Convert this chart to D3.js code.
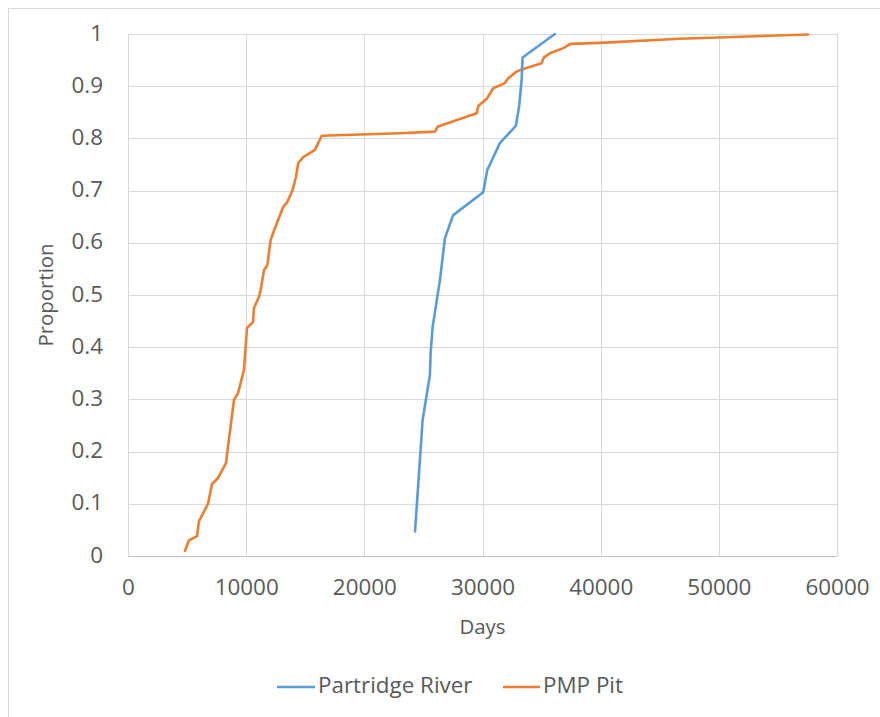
<!DOCTYPE html>
<html>
<head>
<meta charset="utf-8">
<script src="https://cdn.jsdelivr.net/npm/d3@7/dist/d3.min.js"></script>
<style>
  html, body { margin: 0; padding: 0; background: #fff; }
  svg { display: block; }
  text { font-family: "Open Sans", "Noto Sans", sans-serif; fill: #595959; }
</style>
</head>
<body>
<svg id="chart" width="880" height="717"></svg>
<script>
// ---- Data ----
const seriesNames = ["Partridge River", "PMP Pit"];
const seriesColors = ["#5B9BD5", "#ED7D31"];

const partridgeDays = [24290, 24930, 25550, 25610, 25780, 26400, 26820, 27520, 30060, 30400, 31470, 32820, 33100, 33310, 33390, 36120];
const partridgeProp = [0.047, 0.260, 0.347, 0.389, 0.439, 0.529, 0.609, 0.653, 0.697, 0.739, 0.791, 0.824, 0.861, 0.912, 0.955, 1.000];

const pmpDays = [4820, 5160, 5840, 6010, 6770, 7110, 7610, 8290, 8460, 8970, 9310, 9810, 10070, 10580, 10660, 11080, 11230, 11510, 11790, 12070, 12380, 13140, 13480, 13930, 14210, 14410, 14830, 15820, 16390, 23010, 25970, 26230, 29500, 29640, 30400, 30900, 31890, 32170, 32880, 33310, 35000, 35190, 35700, 36830, 37450, 39930, 46700, 57560];
const pmpProp = [0.010, 0.030, 0.038, 0.067, 0.100, 0.138, 0.149, 0.178, 0.209, 0.299, 0.312, 0.356, 0.437, 0.448, 0.475, 0.496, 0.510, 0.548, 0.557, 0.605, 0.625, 0.669, 0.678, 0.701, 0.726, 0.753, 0.764, 0.778, 0.805, 0.810, 0.813, 0.823, 0.848, 0.862, 0.877, 0.896, 0.906, 0.915, 0.928, 0.932, 0.944, 0.955, 0.963, 0.973, 0.981, 0.983, 0.991, 0.999];

const xTicks = [0, 10000, 20000, 30000, 40000, 50000, 60000];
const yTicks = [0, 0.1, 0.2, 0.3, 0.4, 0.5, 0.6, 0.7, 0.8, 0.9, 1];
const xTitle = "Days";
const yTitle = "Proportion";

// ---- Layout ----
const svg = d3.select("#chart");
const plot = { left: 128, right: 837, top: 34, bottom: 556 };
const fontSize = 22.4;

// chart frame
svg.append("rect")
  .attr("x", 8.5).attr("y", 8.5)
  .attr("width", 880).attr("height", 720)
  .attr("fill", "#fff").attr("stroke", "#D9D9D9").attr("stroke-width", 1);

const x = d3.scaleLinear().domain([0, 60000]).range([plot.left, plot.right]);
const y = d3.scaleLinear().domain([0, 1]).range([plot.bottom, plot.top]);

// gridlines
const grid = svg.append("g");
grid.selectAll("line.v").data(xTicks).join("line")
  .attr("x1", d => Math.round(x(d)) + 0.5).attr("x2", d => Math.round(x(d)) + 0.5)
  .attr("y1", plot.top).attr("y2", plot.bottom)
  .attr("stroke", "#D9D9D9").attr("stroke-width", 1);
grid.selectAll("line.h").data(yTicks).join("line")
  .attr("y1", d => Math.round(y(d)) + 0.5).attr("y2", d => Math.round(y(d)) + 0.5)
  .attr("x1", plot.left).attr("x2", plot.right)
  .attr("stroke", "#D9D9D9").attr("stroke-width", 1);

// axes (labels only, using d3 axis generators)
const xAxis = d3.axisBottom(x).tickValues(xTicks).tickSize(0).tickPadding(0).tickFormat(d3.format("d"));
const gx = svg.append("g").attr("transform", `translate(0,${plot.bottom})`).call(xAxis);
gx.select(".domain").attr("stroke", "#BFBFBF").attr("d", `M${plot.left},0.5H${plot.right}`);
gx.selectAll("text").attr("font-size", fontSize).attr("fill", "#595959")
  .attr("dy", null).attr("y", 33).attr("dominant-baseline", "middle")
  .style("font-family", "'Open Sans', sans-serif");

const yAxis = d3.axisLeft(y).tickValues(yTicks).tickSize(0).tickPadding(0)
  .tickFormat(d => String(+d.toFixed(1)));
const gy = svg.append("g").attr("transform", `translate(${plot.left - 25},0)`).call(yAxis);
gy.select(".domain").remove();
gy.selectAll("text").attr("font-size", fontSize).attr("fill", "#595959")
  .attr("dy", null).attr("x", 0).attr("dominant-baseline", "middle")
  .style("font-family", "'Open Sans', sans-serif");

// axis titles
svg.append("text")
  .attr("x", (plot.left + plot.right) / 2).attr("y", 629)
  .attr("text-anchor", "middle").attr("dominant-baseline", "middle")
  .attr("font-size", fontSize - 2).text(xTitle);
svg.append("text")
  .attr("transform", `translate(48,${(plot.top + plot.bottom) / 2}) rotate(-90)`)
  .attr("text-anchor", "middle").attr("dominant-baseline", "middle")
  .attr("font-size", fontSize - 2).text(yTitle);

// lines
const line = d3.line().x(d => x(d[0])).y(d => y(d[1]));
const series = [
  d3.zip(partridgeDays, partridgeProp),
  d3.zip(pmpDays, pmpProp)
];
const drawOrder = [1, 0];
drawOrder.forEach(i => {
  svg.append("path")
    .datum(series[i])
    .attr("d", line)
    .attr("fill", "none")
    .attr("stroke", seriesColors[i])
    .attr("stroke-width", 2.6)
    .attr("stroke-linejoin", "round")
    .attr("stroke-linecap", "round");
});

// legend
const legendY = 687;
const legendItems = [
  { name: seriesNames[0], color: seriesColors[0], x0: 277, x1: 315, tx: 318 },
  { name: seriesNames[1], color: seriesColors[1], x0: 503, x1: 540, tx: 543 }
];
const lg = svg.append("g");
legendItems.forEach(it => {
  lg.append("line").attr("x1", it.x0).attr("x2", it.x1)
    .attr("y1", legendY).attr("y2", legendY)
    .attr("stroke", it.color).attr("stroke-width", 2.6);
  lg.append("text").attr("x", it.tx).attr("y", legendY)
    .attr("dominant-baseline", "middle").attr("font-size", fontSize)
    .text(it.name);
});
</script>
</body>
</html>
